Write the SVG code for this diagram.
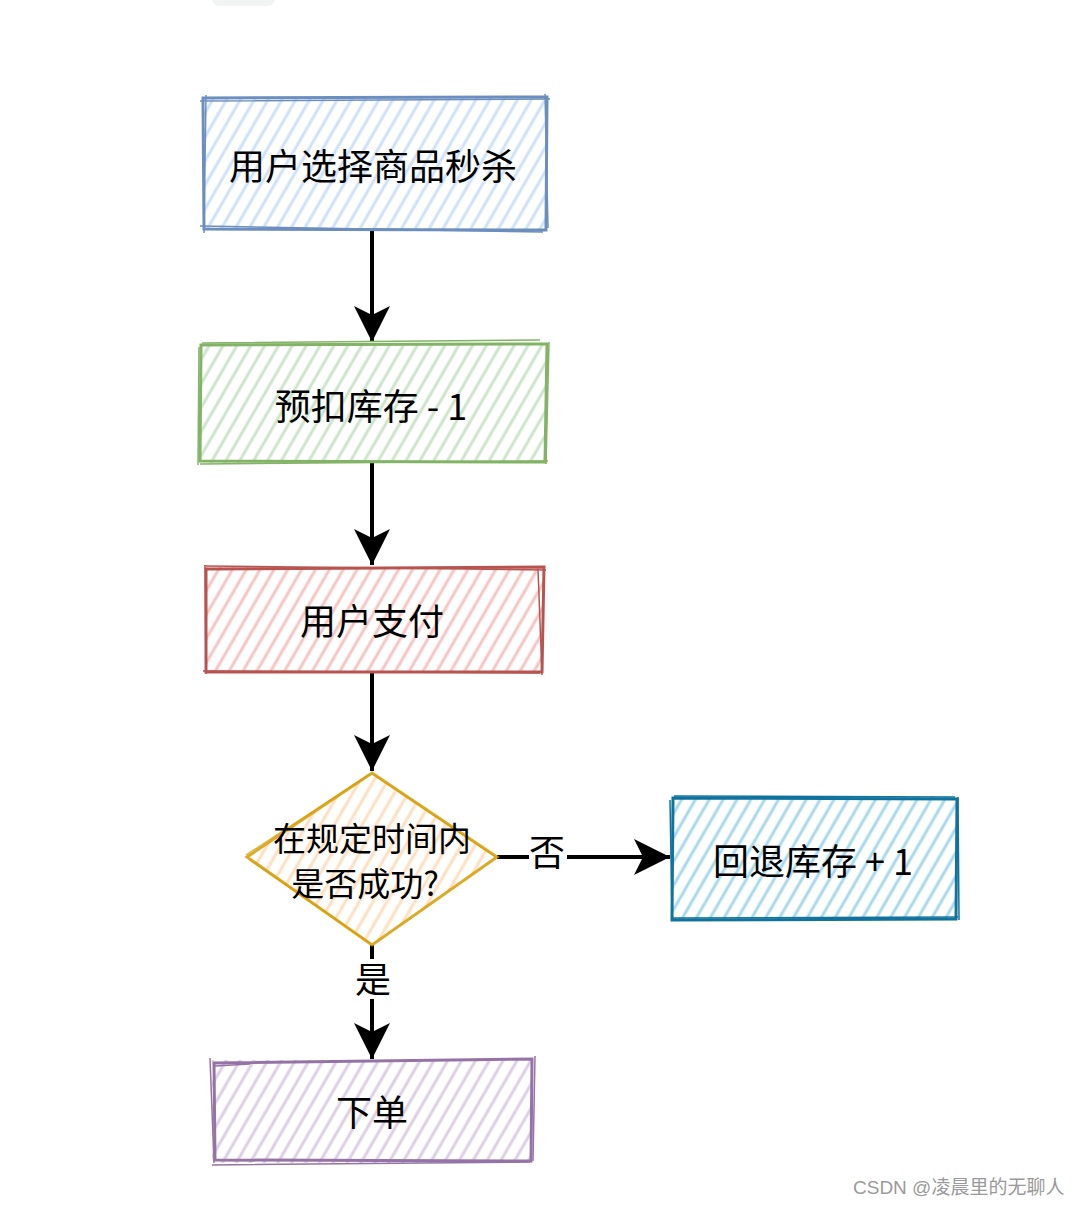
<svg xmlns="http://www.w3.org/2000/svg" width="1080" height="1206" viewBox="0 0 1080 1206">
<defs>
<style>
.lbl{font-family:"Noto Sans CJK SC","Liberation Sans",sans-serif;font-size:36px;fill:#000;text-anchor:middle;dominant-baseline:central}
.dl{font-size:33px}
.edge{stroke:#000;stroke-width:4;fill:none}
.wm{font-family:"Liberation Sans","Noto Sans CJK SC",sans-serif;font-size:19px;fill:#9a9a9a}
</style>
<pattern id="hBlue" width="12" height="12" patternUnits="userSpaceOnUse" patternTransform="rotate(30)"><line x1="6" y1="0" x2="6" y2="12" stroke="#cfe0fa" stroke-width="3"/></pattern>
<pattern id="hGreen" width="12" height="12" patternUnits="userSpaceOnUse" patternTransform="rotate(30)"><line x1="6" y1="0" x2="6" y2="12" stroke="#cde4cb" stroke-width="3"/></pattern>
<pattern id="hRed" width="12" height="12" patternUnits="userSpaceOnUse" patternTransform="rotate(30)"><line x1="6" y1="0" x2="6" y2="12" stroke="#f6c4c2" stroke-width="3"/></pattern>
<pattern id="hOrange" width="12" height="12" patternUnits="userSpaceOnUse" patternTransform="rotate(30)"><line x1="6" y1="0" x2="6" y2="12" stroke="#ffdfc0" stroke-width="3"/></pattern>
<pattern id="hCyan" width="12" height="12" patternUnits="userSpaceOnUse" patternTransform="rotate(30)"><line x1="6" y1="0" x2="6" y2="12" stroke="#a8d8ee" stroke-width="3"/></pattern>
<pattern id="hPurple" width="12" height="12" patternUnits="userSpaceOnUse" patternTransform="rotate(30)"><line x1="6" y1="0" x2="6" y2="12" stroke="#dccfe3" stroke-width="3"/></pattern>
<marker id="arr" markerUnits="userSpaceOnUse" markerWidth="36" markerHeight="36" refX="36" refY="18" orient="auto" viewBox="0 0 36 36"><path d="M0,0 L36,18 L0,36 L9,18 Z" fill="#000"/></marker>
</defs>
<rect width="1080" height="1206" fill="#fff"/>
<rect x="212" y="-8" width="63" height="14" rx="7" fill="#f2f3f3"/>

<g id="connectors">
<line class="edge" x1="372" y1="230" x2="372" y2="342" marker-end="url(#arr)"/>
<line class="edge" x1="372" y1="463" x2="372" y2="565" marker-end="url(#arr)"/>
<line class="edge" x1="372" y1="673" x2="372" y2="771" marker-end="url(#arr)"/>
<line class="edge" x1="497" y1="857" x2="670" y2="857" marker-end="url(#arr)"/>
<line class="edge" x1="372" y1="945" x2="372" y2="1059" marker-end="url(#arr)"/>
<rect x="529" y="835" width="38" height="40" fill="#fff"/>
<text class="lbl" x="547" y="850">否</text>
<rect x="354" y="959" width="38" height="40" fill="#fff"/>
<text class="lbl" x="373" y="977">是</text>
</g>

<g id="n1">
<rect x="203" y="97" width="344" height="133" fill="url(#hBlue)"/>
<path d="M203,98 L547,97 L546,230 L204,229 Z" fill="none" stroke="#6c8ebf" stroke-width="3"/>
<path d="M200,101 L550,99 M206,95 L204,233 M545,94 L548,228 M200,226 L543,232" fill="none" stroke="#6c8ebf" stroke-width="1.5"/>
<text class="lbl" x="373" y="164">用户选择商品秒杀</text>
</g>

<g id="n2">
<rect x="200" y="344" width="347" height="119" fill="url(#hGreen)"/>
<path d="M201,345 L547,344 L545,462 L200,461 Z" fill="none" stroke="#82b366" stroke-width="3"/>
<path d="M202,343 L540,340 M199,347 L198,465 M549,342 L546,464 M200,464 L548,461" fill="none" stroke="#82b366" stroke-width="1.5"/>
<text class="lbl" x="371" y="404">预扣库存 - 1</text>
</g>

<g id="n3">
<rect x="205" y="567" width="338" height="106" fill="url(#hRed)"/>
<path d="M206,569 L544,567 L542,672 L206,672 Z" fill="none" stroke="#b85450" stroke-width="3"/>
<path d="M204,566 L546,570 M205,565 L206,674 M538,569 L542,675 M203,671 L540,673" fill="none" stroke="#b85450" stroke-width="1.5"/>
<text class="lbl" x="372" y="619">用户支付</text>
</g>

<g id="n4">
<path d="M372,773 L497,857 L372,945 L247,857 Z" fill="url(#hOrange)"/>
<path d="M372,773 L497,857 L372,945 L247,857 Z" fill="none" stroke="#d79b00" stroke-opacity="0.85" stroke-width="3"/>
<path d="M374,775 L494,856 M370,943 L250,860 M246,855 L370,774" fill="none" stroke="#d79b00" stroke-opacity="0.7" stroke-width="1.5"/>
<text class="lbl dl"><tspan x="372" y="837">在规定时间内</tspan><tspan x="365" y="882">是否成功?</tspan></text>
</g>

<g id="n5">
<rect x="672" y="797" width="285" height="123" fill="url(#hCyan)"/>
<path d="M673,798 L957,799 L956,919 L672,920 Z" fill="none" stroke="#10739e" stroke-width="3"/>
<path d="M674,796 L955,797 M670,800 L672,917 M958,797 L959,920 M673,918 L958,917" fill="none" stroke="#10739e" stroke-width="1.5"/>
<text class="lbl" x="813" y="859">回退库存 + 1</text>
</g>

<g id="n6">
<rect x="212" y="1060" width="320" height="103" fill="url(#hPurple)"/>
<path d="M214,1063 L532,1059 L531,1161 L215,1160 Z" fill="none" stroke="#9673a6" stroke-width="3"/>
<path d="M210,1058 L214,1163 M535,1056 L533,1161 M212,1165 L530,1162 M215,1066 L250,1064" fill="none" stroke="#9673a6" stroke-width="1.5"/>
<text class="lbl" x="372" y="1110">下单</text>
</g>

<text class="wm" x="853" y="1194">CSDN @凌晨里的无聊人</text>
</svg>
